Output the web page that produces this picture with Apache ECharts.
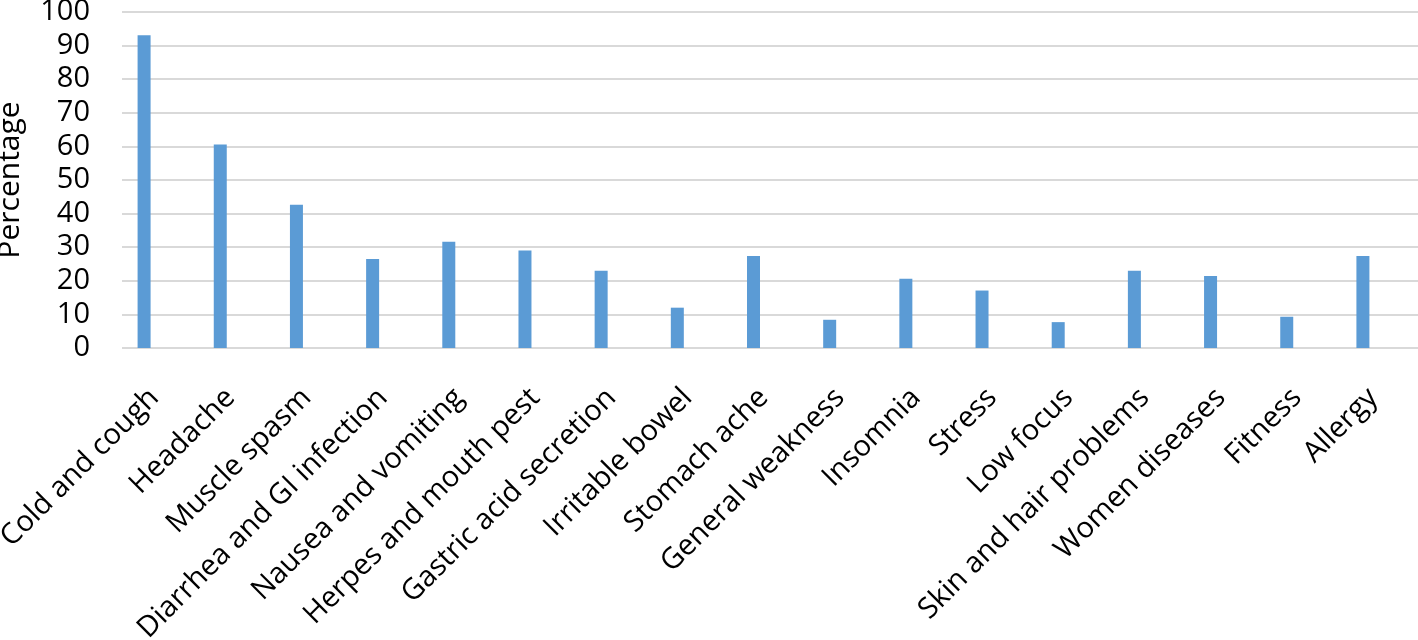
<!DOCTYPE html>
<html>
<head>
<meta charset="utf-8">
<script src="https://cdn.jsdelivr.net/npm/echarts@6/dist/echarts.min.js"></script>
<style>html,body{margin:0;padding:0;background:#fff}#c{width:1418px;height:640px}</style>
</head>
<body>
<div id="c"></div>
<script>
const categories = ["Cold and cough","Headache","Muscle spasm","Diarrhea and GI infection","Nausea and vomiting","Herpes and mouth pest","Gastric acid secretion","Irritable bowel","Stomach ache","General weakness","Insomnia","Stress","Low focus","Skin and hair problems","Women diseases","Fitness","Allergy"];
const percentages = [93.1,60.6,42.6,26.5,31.6,29.0,23.0,12.0,27.4,8.4,20.6,17.1,7.7,23.0,21.4,9.3,27.4];
const yMin = 0, yMax = 100, yStep = 10;
const yName = "Percentage";

const FONT = "Open Sans";
const chart = echarts.init(document.getElementById('c'), null, {renderer:'canvas'});
chart.setOption({
  animation:false,
  backgroundColor:'#ffffff',
  grid:[
    {left:106, right:17, top:12, bottom:292, containLabel:false, outerBoundsMode:'none'},
    {left:122, right:0, top:12, bottom:292, containLabel:false, outerBoundsMode:'none'}
  ],
  xAxis:[
    {type:'category', gridIndex:0, data:categories, boundaryGap:true,
     axisLine:{show:false}, axisTick:{show:false},
     axisLabel:{interval:0, rotate:45, margin:35, align:'right', verticalAlign:'top',
       color:'#000', fontFamily:FONT, fontSize:29}},
    {type:'value', gridIndex:1, show:false, min:0, max:1}
  ],
  yAxis:[
    {type:'value', gridIndex:0, min:yMin, max:yMax, interval:yStep, show:false},
    {type:'value', gridIndex:1, min:yMin, max:yMax, interval:yStep,
     name:yName, nameLocation:'middle', nameGap:97,
     nameTextStyle:{color:'#000', fontFamily:FONT, fontSize:30},
     axisLine:{show:false}, axisTick:{show:false},
     axisLabel:{color:'#000', fontFamily:FONT, fontSize:29, margin:32},
     splitLine:{show:true, lineStyle:{color:'#d9d9d9', width:2}}}
  ],
  series:[{type:'bar', xAxisIndex:0, yAxisIndex:0, data:percentages, barWidth:13,
    itemStyle:{color:'#5b9bd5'}}]
});
</script>
</body>
</html>
